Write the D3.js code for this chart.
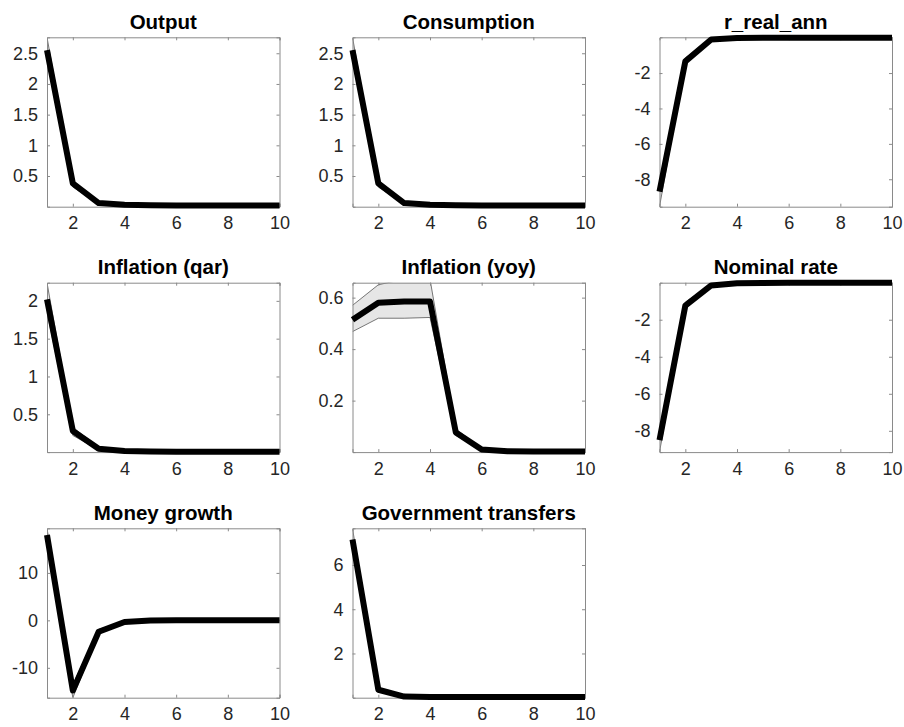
<!DOCTYPE html>
<html>
<head>
<meta charset="utf-8">
<script src="https://cdn.jsdelivr.net/npm/d3@7/dist/d3.min.js"></script>
<style>
  html, body { margin: 0; padding: 0; background: #fff; }
  svg { display: block; }
  text { font-family: "Liberation Sans", Arial, Helvetica, sans-serif; }
</style>
</head>
<body>
<svg id="chart" width="904" height="727"></svg>
<script>
// Impulse responses over a 10-period horizon: median path with a shaded band.
const periods = [1, 2, 3, 4, 5, 6, 7, 8, 9, 10];
const xTicks = [2, 4, 6, 8, 10];

const titles = ["Output", "Consumption", "r_real_ann", "Inflation (qar)",
  "Inflation (yoy)", "Nominal rate", "Money growth", "Government transfers"];

// Output
const outputMid = [2.55, 0.38, 0.06, 0.03, 0.022, 0.02, 0.02, 0.02, 0.02, 0.02];
const outputLo  = [2.38, 0.32, 0.045, 0.015, 0.008, 0.005, 0.003, 0.002, 0.001, 0.0];
const outputHi  = [2.76, 0.43, 0.075, 0.035, 0.03, 0.028, 0.027, 0.026, 0.026, 0.026];
// Consumption
const consMid = [2.55, 0.38, 0.06, 0.03, 0.022, 0.02, 0.02, 0.02, 0.02, 0.02];
const consLo  = [2.38, 0.32, 0.045, 0.015, 0.008, 0.005, 0.003, 0.002, 0.001, 0.0];
const consHi  = [2.76, 0.43, 0.075, 0.035, 0.03, 0.028, 0.027, 0.026, 0.026, 0.026];
// Real rate, annualised
const rRealMid = [-8.7, -1.34, -0.1, -0.02, -0.01, -0.005, -0.005, -0.005, -0.005, -0.005];
const rRealLo  = [-9.55, -1.45, -0.16, -0.04, -0.02, -0.01, -0.01, -0.01, -0.01, -0.01];
const rRealHi  = [-8.2, -1.15, -0.05, 0.0, 0.0, 0.0, 0.0, 0.0, 0.0, 0.0];
// Inflation, quarterly annualised
const inflQarMid = [2.02, 0.28, 0.045, 0.015, 0.008, 0.005, 0.004, 0.003, 0.003, 0.003];
const inflQarLo  = [1.85, 0.22, 0.03, 0.008, 0.003, 0.001, 0.0, 0.0, 0.0, 0.0];
const inflQarHi  = [2.24, 0.33, 0.06, 0.02, 0.012, 0.008, 0.006, 0.005, 0.005, 0.005];
// Inflation, year over year
const inflYoyMid = [0.514, 0.58, 0.585, 0.585, 0.076, 0.01, 0.003, 0.002, 0.002, 0.002];
const inflYoyLo  = [0.468, 0.52, 0.52, 0.523, 0.065, 0.007, 0.001, 0.0, 0.0, 0.0];
const inflYoyHi  = [0.57, 0.65, 0.672, 0.672, 0.09, 0.014, 0.005, 0.003, 0.003, 0.003];
// Nominal rate
const nomMid = [-8.5, -1.24, -0.15, -0.03, -0.01, -0.005, -0.005, -0.005, -0.005, -0.005];
const nomLo  = [-9.15, -1.4, -0.22, -0.05, -0.02, -0.01, -0.01, -0.01, -0.01, -0.01];
const nomHi  = [-8.0, -1.05, -0.08, 0.0, 0.0, 0.0, 0.0, 0.0, 0.0, 0.0];
// Money growth
const moneyMid = [18.0, -14.8, -2.4, -0.35, -0.05, 0.0, 0.0, 0.0, 0.0, 0.0];
const moneyLo  = [16.5, -16.3, -2.9, -0.5, -0.1, -0.02, 0.0, 0.0, 0.0, 0.0];
const moneyHi  = [19.4, -13.5, -1.9, -0.2, 0.0, 0.02, 0.0, 0.0, 0.0, 0.0];
// Government transfers
const transMid = [7.15, 0.36, 0.05, 0.03, 0.03, 0.03, 0.03, 0.03, 0.03, 0.03];
const transLo  = [6.8, 0.3, 0.03, 0.01, 0.005, 0.0, 0.0, 0.0, 0.0, 0.0];
const transHi  = [7.66, 0.45, 0.07, 0.04, 0.035, 0.035, 0.035, 0.035, 0.035, 0.035];

// Axis limits and y tick values per panel
const yLimits = [[0, 2.76], [0, 2.76], [-9.55, 0.02], [0, 2.24],
  [0, 0.658], [-9.15, 0.0], [-16.3, 19.4], [0, 7.66]];
const yTicks = [[0.5, 1, 1.5, 2, 2.5], [0.5, 1, 1.5, 2, 2.5], [-8, -6, -4, -2],
  [0.5, 1, 1.5, 2], [0.2, 0.4, 0.6], [-8, -6, -4, -2], [-10, 0, 10], [2, 4, 6]];

const mids = [outputMid, consMid, rRealMid, inflQarMid, inflYoyMid, nomMid, moneyMid, transMid];
const los  = [outputLo, consLo, rRealLo, inflQarLo, inflYoyLo, nomLo, moneyLo, transLo];
const his  = [outputHi, consHi, rRealHi, inflQarHi, inflYoyHi, nomHi, moneyHi, transHi];

// Grid layout
const colLeft = [47, 352.5, 659.5];
const rowTop = [37.3, 282.7, 528.3];
const plotW = 232.5, plotH = 169.4;
const tickLen = 3;
const fontStack = '"Liberation Sans", Arial, Helvetica, sans-serif';

const svg = d3.select("#chart");

titles.forEach((title, i) => {
  const col = i % 3, row = Math.floor(i / 3);
  const g = svg.append("g")
    .attr("transform", `translate(${colLeft[col]},${rowTop[row]})`);

  const x = d3.scaleLinear().domain([1, 10]).range([0, plotW]);
  const y = d3.scaleLinear().domain(yLimits[i]).range([plotH, 0]);

  const clipId = "clip" + i;
  g.append("clipPath").attr("id", clipId)
    .append("rect").attr("width", plotW).attr("height", plotH);

  const rows = periods.map((p, k) => ({ p, lo: los[i][k], hi: his[i][k], mid: mids[i][k] }));

  // Shaded band and its edges, clipped to the axes
  const band = g.append("g").attr("clip-path", `url(#${clipId})`);
  band.append("path")
    .datum(rows)
    .attr("fill", "#e6e6e6")
    .attr("d", d3.area().x(d => x(d.p)).y0(d => y(d.lo)).y1(d => y(d.hi)));
  ["lo", "hi"].forEach(key => {
    band.append("path")
      .datum(rows)
      .attr("fill", "none")
      .attr("stroke", "#555")
      .attr("stroke-width", 0.8)
      .attr("d", d3.line().x(d => x(d.p)).y(d => y(d[key])));
  });

  // Axes box with inward ticks on all four sides
  const axisColor = "#8a8a8a";
  const xAxisB = d3.axisBottom(x).tickValues(xTicks).tickSize(-tickLen).tickPadding(9).tickFormat(d3.format("d"));
  const xAxisT = d3.axisTop(x).tickValues(xTicks).tickSize(-tickLen).tickFormat("");
  const yAxisL = d3.axisLeft(y).tickValues(yTicks[i]).tickSize(-tickLen).tickPadding(9).tickFormat(d => String(d));
  const yAxisR = d3.axisRight(y).tickValues(yTicks[i]).tickSize(-tickLen).tickFormat("");

  const styleAxis = sel => {
    sel.select(".domain").attr("stroke", axisColor).attr("stroke-width", 1);
    sel.selectAll(".tick line").attr("stroke", axisColor).attr("stroke-width", 1);
    sel.selectAll(".tick text").attr("fill", "#262626").style("font-size", "18px")
      .style("font-family", fontStack);
  };
  g.append("g").attr("transform", `translate(0,${plotH})`).call(xAxisB).call(styleAxis)
    .selectAll(".tick text").attr("dy", "0.76em");
  g.append("g").call(xAxisT).call(styleAxis);
  g.append("g").call(yAxisL).call(styleAxis);
  g.append("g").attr("transform", `translate(${plotW},0)`).call(yAxisR).call(styleAxis);

  // Median response
  g.append("path")
    .datum(rows)
    .attr("fill", "none")
    .attr("stroke", "#000")
    .attr("stroke-width", 6)
    .attr("stroke-linejoin", "round")
    .attr("d", d3.line().x(d => x(d.p)).y(d => y(d.mid)));

  g.append("text")
    .attr("x", plotW / 2)
    .attr("y", -8.5)
    .attr("text-anchor", "middle")
    .attr("fill", "#000")
    .style("font-size", "20.5px")
    .style("font-weight", "bold")
    .style("font-family", fontStack)
    .text(title);
});
</script>
</body>
</html>
